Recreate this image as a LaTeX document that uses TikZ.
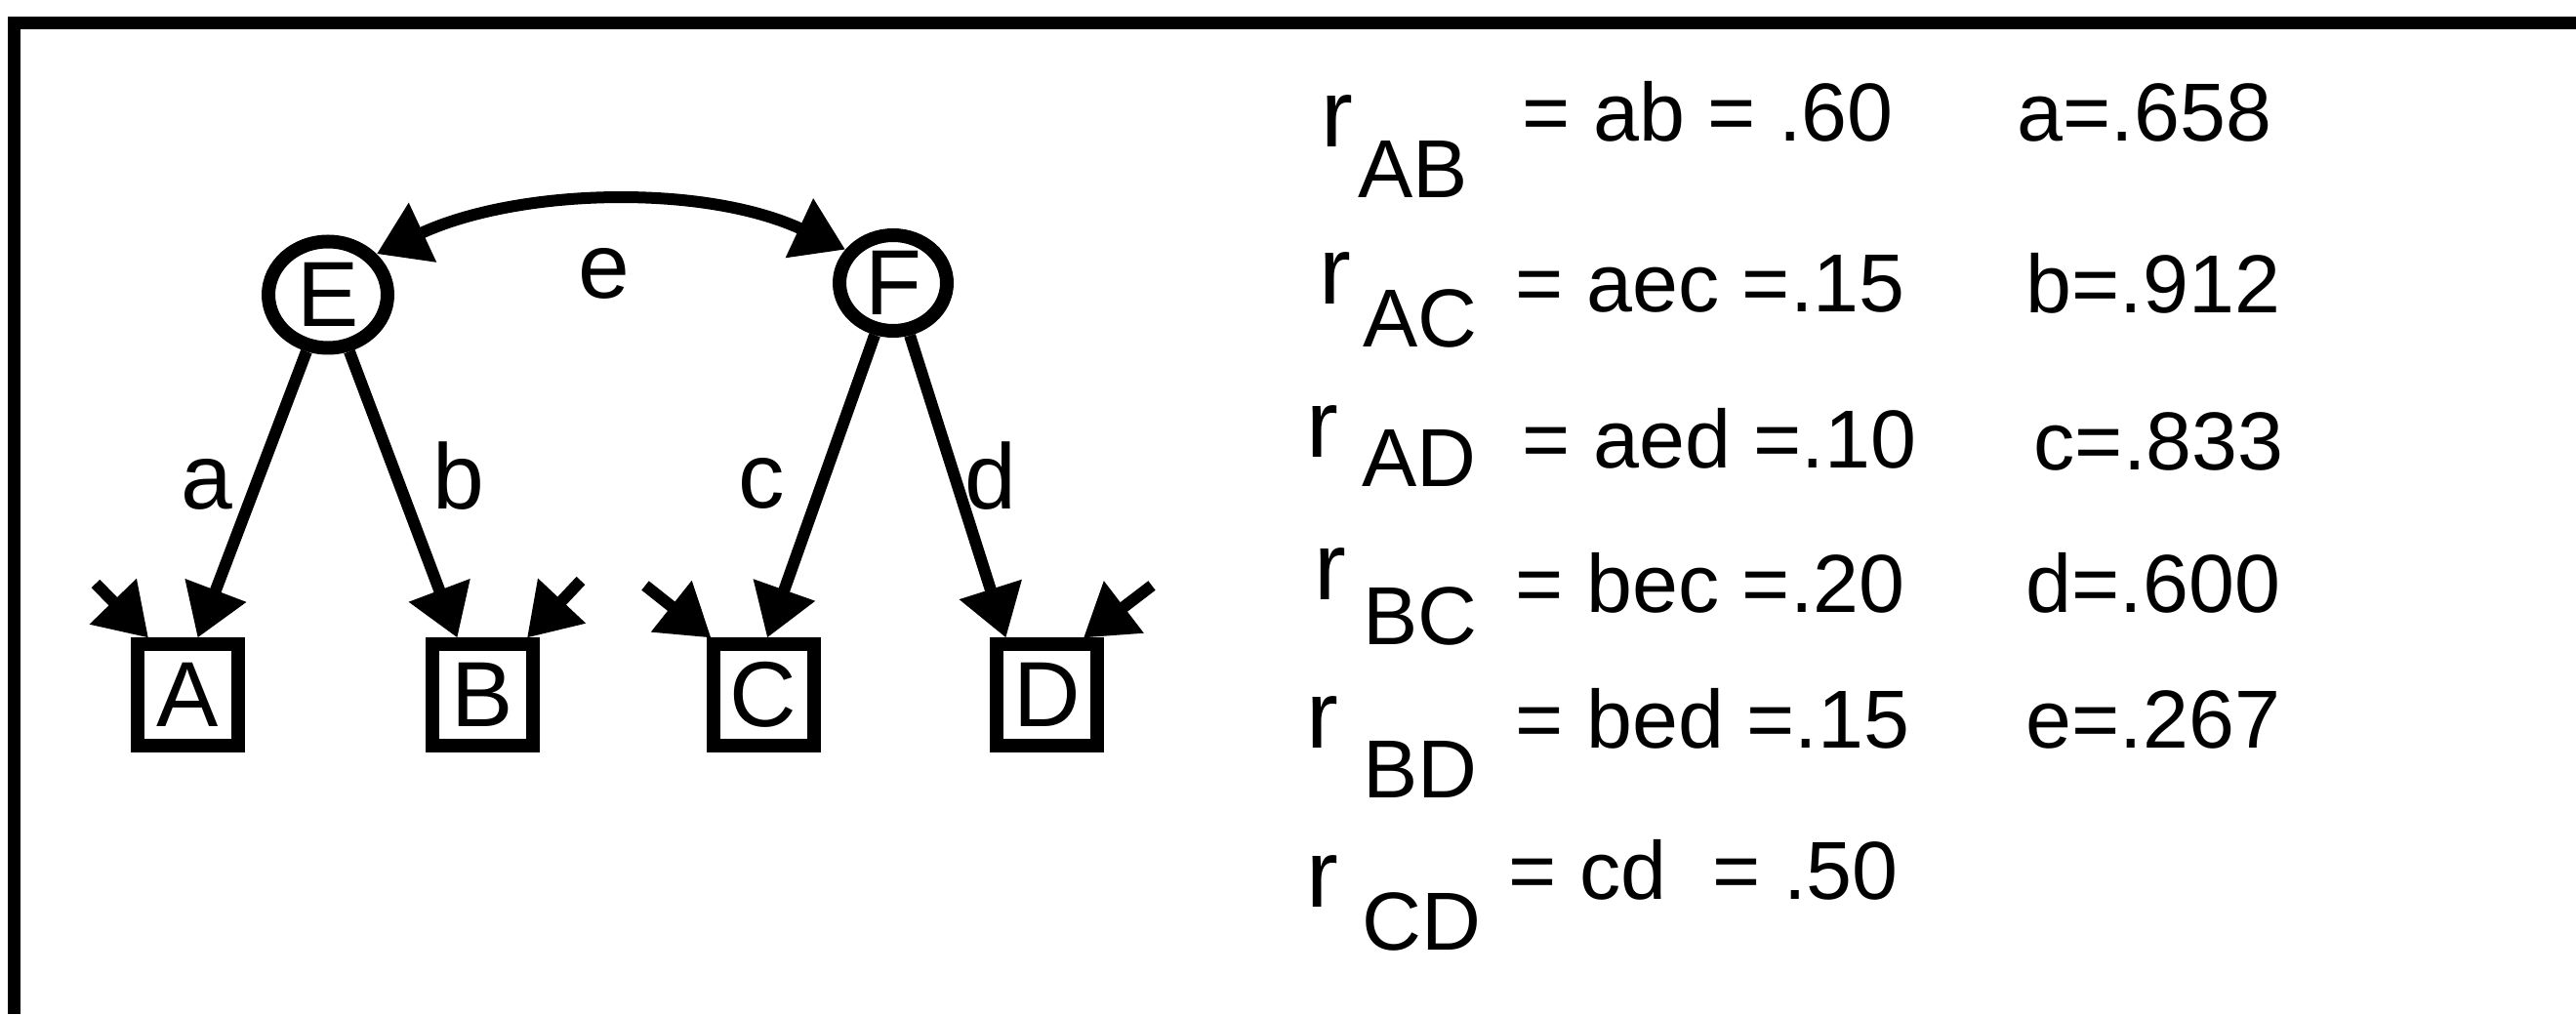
\documentclass[tikz,border=0pt]{standalone}
\usepackage{fontspec}
\setmainfont{Liberation Sans}
\usepackage{tikz}
\usetikzlibrary{arrows.meta, shapes.geometric}

\newcommand{\diagfont}{\fontsize{27}{32}\selectfont}
\newcommand{\listfont}{\fontsize{24}{29}\selectfont}
\newcommand{\rfont}{\fontsize{28}{32}\selectfont}

\tikzset{
  latent/.style={ellipse, draw, line width=0.14cm, inner sep=0pt, font=\diagfont},
  observed/.style={rectangle, draw, line width=0.14cm, minimum size=1.03cm, inner sep=0pt, font=\diagfont},
  effect/.style={line width=0.12cm, ->},
  pathlabel/.style={anchor=base, inner sep=0pt, font=\diagfont},
  listtext/.style={anchor=base west, inner sep=0pt, font=\listfont},
  frame/.style={line width=0.13cm}
}

\begin{document}
\begin{tikzpicture}[>={Triangle[length=0.52cm, width=0.64cm]}]
  \useasboundingbox (0,0) rectangle (26.39,10.39);

  % Frame
  \draw[frame] (0.15,0) -- (0.15,10.15) -- (26.39,10.15);

  % Latent factors
  \node[latent, minimum width=1.22cm, minimum height=1.09cm] (E) at (3.36,7.37) {E};
  \node[latent, minimum width=1.10cm, minimum height=0.98cm] (F) at (9.15,7.49) {F};

  % Observed variables
  \foreach \name/\x in {A/1.925, B/4.945, C/7.82, D/10.725} {
    \node[observed] (\name) at (\x,3.27) {\name};
  }

  % Paths from factors
  \draw[effect] (E) -- ([xshift=0.10cm]A.north);
  \draw[effect] (E) -- ([xshift=-0.26cm]B.north);
  \draw[effect] (F) -- ([xshift=0.04cm]C.north);
  \draw[effect] (F) -- ([xshift=-0.42cm]D.north);

  % Factor correlation
  \draw[effect, <->] (E.40) to[out=25, in=155, looseness=0.85] (F.145);

  % Residuals
  \coordinate (uA) at (0.98,4.41);
  \coordinate (uB) at (5.95,4.44);
  \coordinate (uC) at (6.61,4.39);
  \coordinate (uD) at (11.80,4.39);
  \draw[effect] (uA) -- ([xshift=0.18cm]A.north west);
  \draw[effect] (uB) -- ([xshift=-0.13cm]B.north east);
  \draw[effect] (uC) -- ([xshift=0.05cm]C.north west);
  \draw[effect] (uD) -- ([xshift=-0.21cm]D.north east);

  % Path labels
  \foreach \lbl/\x/\y in {a/2.12/5.17, b/4.70/5.17, c/7.80/5.18, d/10.15/5.17, e/6.19/7.33} {
    \node[pathlabel] (lbl-\lbl) at (\x,\y) {\lbl};
  }

  % Correlations
  \foreach \pair/\rx/\ry/\sx/\sy/\ex/\ey/\eq in {
      AB/13.53/8.88/13.91/8.36/15.59/8.94/{= ab = .60},
      AC/13.51/7.27/13.96/6.83/15.52/7.19/{= aec =.15},
      AD/13.38/5.70/13.95/5.40/15.59/5.59/{= aed =.10},
      BC/13.46/4.24/13.96/3.78/15.52/4.11/{= bec =.20},
      BD/13.38/2.73/13.96/2.21/15.52/2.73/{= bed =.15},
      CD/13.38/1.10/13.95/0.66/15.45/1.18/{= cd\ \ = .50}} {
    \node[listtext, font=\rfont] (r-\pair) at (\rx,\ry) {r};
    \node[listtext] (sub-\pair) at (\sx,\sy) {\pair};
    \node[listtext] (eq-\pair) at (\ex,\ey) {\eq};
  }

  % Path estimates
  \foreach \nm/\val/\x/\y in {a/.658/20.66/8.94, b/.912/20.75/7.18, c/.833/20.83/5.57,
      d/.600/20.75/4.11, e/.267/20.75/2.73} {
    \node[listtext] (est-\nm) at (\x,\y) {\nm=\val};
  }
\end{tikzpicture}
\end{document}
